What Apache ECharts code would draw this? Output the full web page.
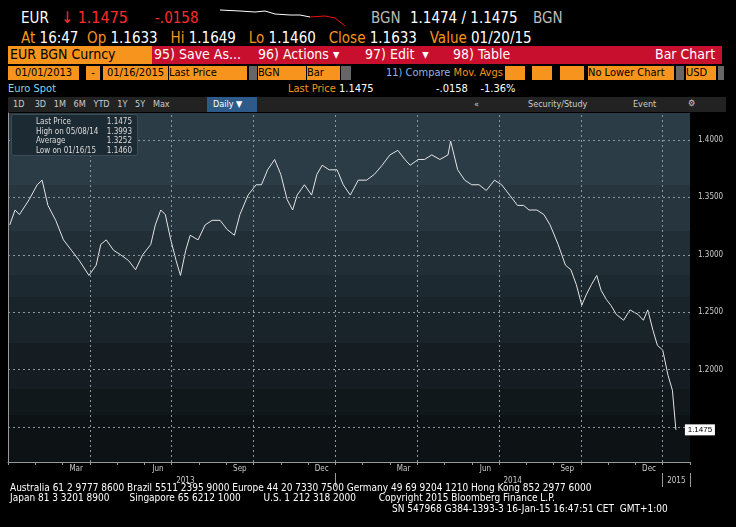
<!DOCTYPE html>
<html><head><meta charset="utf-8">
<script src="https://cdn.jsdelivr.net/npm/echarts@6/dist/echarts.min.js"></script>
<style>
body{margin:0;width:736px;height:527px;background:#000;overflow:hidden;font-family:"DejaVu Sans Condensed","DejaVu Sans",sans-serif;position:relative;color:#fff}
.a{position:absolute;white-space:nowrap}
.o{color:#f7941d}.w{color:#fff}.g{color:#bbb}
#plotbg{position:absolute;left:8px;top:113px;width:682px;height:349px;
background:linear-gradient(#2c3c46 0,#2c3c46 72px,#26353e 72px,#26353e 118px,#212e36 118px,#212e36 162px,#1d2930 162px,#1d2930 184px,#19232a 184px,#19232a 230px,#151d23 230px,#151d23 276px,#11181c 276px,#11181c 302px,#0d1215 302px)}
#c{position:absolute;left:0;top:108px;width:736px;height:384px}
</style></head><body>
<div class="a" style="left:21px;top:9px;font-size:15px">EUR</div>
<div class="a" style="left:61px;top:8px;font-size:16px;color:#ff2b2b">↓ 1.1475</div>
<div class="a" style="left:155px;top:9px;font-size:15px;color:#ff2b2b">-.0158</div>
<svg class="a" style="left:220px;top:8px" width="130" height="20"><polyline fill="none" stroke="#fff" stroke-width="1" points="0,2 20,3 35,4 45,3 55,6 70,7 80,7 90,9"/><polyline fill="none" stroke="#e11" stroke-width="1" points="90,9 105,8 115,10 125,18"/></svg>
<div class="a g" style="left:371px;top:9px;font-size:15px">BGN</div>
<div class="a" style="left:410px;top:9px;font-size:15px">1.1474 / 1.1475</div>
<div class="a g" style="left:533px;top:9px;font-size:15px">BGN</div>
<div class="a" style="left:21px;top:29px;font-size:15px"><span class="o">At</span> 16:47 &nbsp;<span class="o">Op</span> 1.1633 &nbsp;&nbsp;<span class="o">Hi</span> 1.1649 &nbsp;&nbsp;<span class="o">Lo</span> 1.1460 &nbsp;&nbsp;<span class="o">Close</span> 1.1633 &nbsp;&nbsp;<span class="o">Value</span> 01/20/15</div>
<div class="a" style="left:8px;top:46px;width:142px;height:18px;background:#f7941d;color:#000;font-size:14px;padding-left:2px">EUR BGN Curncy</div>
<div class="a" style="left:152px;top:46px;width:570px;height:18px;background:#c8102e;font-size:14px"></div>
<div class="a" style="left:154px;top:46px;font-size:14px">95) Save As...</div>
<div class="a" style="left:258px;top:46px;font-size:14px">96) Actions ▾</div>
<div class="a" style="left:365px;top:46px;font-size:14px">97) Edit &nbsp;▾</div>
<div class="a" style="left:453px;top:46px;font-size:14px">98) Table</div>
<div class="a" style="left:655px;top:46px;font-size:14px">Bar Chart</div>
<div class="a" style="left:8px;top:66px;width:716px;height:14px;font-size:11px;color:#000">
<span class="a" style="left:0;width:71px;height:14px;background:#f7941d;text-align:center">01/01/2013</span>
<span class="a" style="left:78px;width:14px;height:14px;background:#f7941d;text-align:center">-</span>
<span class="a" style="left:95px;width:65px;height:14px;background:#f7941d;text-align:center">01/16/2015</span>
<span class="a" style="left:161px;width:78px;height:14px;background:#f7941d">Last Price</span>
<span class="a" style="left:241px;width:8px;height:14px;background:#666"></span>
<span class="a" style="left:250px;width:48px;height:14px;background:#f7941d">BGN</span>
<span class="a" style="left:299px;width:33px;height:14px;background:#f7941d">Bar</span>
<span class="a" style="left:333px;width:10px;height:14px;background:#666"></span>
<span class="a" style="left:378px;color:#8cb4e0">11) Compare <span class="o">Mov. Avgs</span></span>
<span class="a" style="left:497px;width:20px;height:14px;background:#f7941d"></span>
<span class="a" style="left:524px;width:20px;height:14px;background:#f7941d"></span>
<span class="a" style="left:552px;width:24px;height:14px;background:#f7941d"></span>
<span class="a" style="left:580px;width:86px;height:14px;background:#f7941d">No Lower Chart</span>
<span class="a" style="left:668px;width:8px;height:14px;background:#666"></span>
<span class="a" style="left:678px;width:30px;height:14px;background:#f7941d">USD</span>
<span class="a" style="left:710px;width:6px;height:14px;background:#666"></span>
</div>
<div class="a" style="left:8px;top:82px;font-size:11px;color:#7fd6e6">Euro Spot</div>
<div class="a" style="left:288px;top:82px;font-size:11px"><span class="o">Last Price</span> 1.1475</div>
<div class="a" style="left:436px;top:82px;font-size:11px">-.0158 &nbsp;&nbsp;&nbsp;-1.36%</div>
<div class="a" style="left:8px;top:97px;width:718px;height:15px;background:#222;font-size:9px;color:#ccc">
<span class="a" style="left:5px;top:2px">1D &nbsp;&nbsp;&nbsp;3D &nbsp;&nbsp;1M &nbsp;&nbsp;6M &nbsp;&nbsp;YTD &nbsp;&nbsp;1Y &nbsp;&nbsp;5Y &nbsp;&nbsp;Max</span>
<span class="a" style="left:199px;top:0;width:50px;height:15px;background:#2e5a8a;color:#fff;padding:2px 0 0 6px;box-sizing:border-box">Daily ▼</span>
<span class="a" style="left:466px;top:2px">«</span>
<span class="a" style="left:520px;top:2px">Security/Study</span>
<span class="a" style="left:625px;top:2px">Event</span>
<span class="a" style="left:680px;top:1px">⚙</span>
</div>
<div id="plotbg"></div>
<div id="c"></div>
<div class="a" style="left:11px;top:114px;width:127px;height:42px;background:#1c2a33;border:1px solid #3c4c56;border-radius:3px;font-size:8px;color:#ddd;line-height:9.5px;padding:2px 0 0 24px;box-sizing:border-box">
<div>Last Price<span style="position:absolute;right:5px">1.1475</span></div>
<div>High on 05/08/14<span style="position:absolute;right:5px">1.3993</span></div>
<div>Average<span style="position:absolute;right:5px">1.3252</span></div>
<div>Low on 01/16/15<span style="position:absolute;right:5px">1.1460</span></div>
</div>
<div class="a" style="left:10px;top:483px;font-size:10px;line-height:10px;color:#fff">Australia 61 2 9777 8600 Brazil 5511 2395 9000 Europe 44 20 7330 7500 Germany 49 69 9204 1210 Hong Kong 852 2977 6000<br>Japan 81 3 3201 8900 &nbsp;&nbsp;&nbsp;&nbsp;&nbsp;&nbsp;Singapore 65 6212 1000 &nbsp;&nbsp;&nbsp;&nbsp;&nbsp;&nbsp;&nbsp;U.S. 1 212 318 2000 &nbsp;&nbsp;&nbsp;&nbsp;&nbsp;&nbsp;&nbsp;Copyright 2015 Bloomberg Finance L.P.</div>
<div class="a" style="left:392px;top:503px;font-size:10px;color:#fff">SN 547968 G384-1393-3 16-Jan-15 16:47:51 CET &nbsp;GMT+1:00</div>
<script>
const dates=["2013-01-03","2013-01-09","2013-01-14","2013-01-25","2013-02-03","2013-02-08","2013-02-14","2013-02-22","2013-03-02","2013-03-11","2013-03-20","2013-03-31","2013-04-08","2013-04-13","2013-04-19","2013-04-27","2013-05-05","2013-05-14","2013-05-22","2013-05-30","2013-06-08","2013-06-13","2013-06-19","2013-06-24","2013-06-30","2013-07-06","2013-07-11","2013-07-17","2013-07-22","2013-07-31","2013-08-08","2013-08-16","2013-08-25","2013-09-02","2013-09-10","2013-09-16","2013-09-25","2013-10-04","2013-10-10","2013-10-17","2013-10-25","2013-11-01","2013-11-08","2013-11-14","2013-11-19","2013-11-27","2013-12-05","2013-12-11","2013-12-17","2013-12-25","2014-01-03","2014-01-10","2014-01-18","2014-01-27","2014-02-05","2014-02-13","2014-02-21","2014-03-01","2014-03-10","2014-03-18","2014-03-24","2014-04-02","2014-04-09","2014-04-17","2014-04-26","2014-05-05","2014-05-08","2014-05-16","2014-05-24","2014-06-01","2014-06-09","2014-06-17","2014-06-26","2014-07-04","2014-07-13","2014-07-22","2014-07-29","2014-08-04","2014-08-13","2014-08-21","2014-08-28","2014-09-06","2014-09-14","2014-09-20","2014-09-26","2014-10-02","2014-10-07","2014-10-13","2014-10-19","2014-10-24","2014-10-30","2014-11-04","2014-11-10","2014-11-18","2014-11-25","2014-12-04","2014-12-10","2014-12-15","2014-12-21","2014-12-26","2015-01-01","2015-01-07","2015-01-12","2015-01-16"];
const closes=[1.326,1.339,1.335,1.348,1.361,1.365,1.343,1.330,1.313,1.304,1.295,1.282,1.291,1.309,1.313,1.304,1.300,1.295,1.287,1.300,1.309,1.326,1.339,1.335,1.313,1.295,1.282,1.304,1.317,1.313,1.326,1.330,1.330,1.322,1.317,1.335,1.352,1.361,1.361,1.374,1.383,1.370,1.348,1.339,1.352,1.361,1.352,1.370,1.378,1.374,1.374,1.361,1.352,1.365,1.365,1.370,1.378,1.387,1.391,1.383,1.378,1.383,1.383,1.387,1.383,1.387,1.399,1.374,1.365,1.361,1.361,1.356,1.365,1.361,1.352,1.343,1.343,1.339,1.339,1.335,1.326,1.309,1.291,1.287,1.274,1.256,1.265,1.274,1.282,1.269,1.261,1.256,1.248,1.243,1.252,1.248,1.243,1.252,1.234,1.221,1.217,1.195,1.182,1.1475];
const yTicks=[1.15,1.20,1.25,1.30,1.35,1.40];
const xGrid=[3,6,9,12,15,18,21,24];
const monthNames=["Jan","Feb","Mar","Apr","May","Jun","Jul","Aug","Sep","Oct","Nov","Dec"];
const monthCats=[];for(let i=0;i<25;i++)monthCats.push(monthNames[i%12]);
const yearCats=monthCats.map((m,i)=>String(2013+Math.floor(i/12)));
function toMonths(s){const [y,m,d]=s.split("-").map(Number);const dim=new Date(y,m,0).getDate();return (y-2013)*12+(m-1)+(d-1)/dim;}
const pts=dates.map((d,i)=>[toMonths(d),closes[i]]);
const lbl={color:'#ccc',fontSize:8,fontFamily:'DejaVu Sans Condensed'};
const gridStyle={color:'#8a979f',type:[2,3],width:1};
const chart=echarts.init(document.getElementById('c'));
chart.setOption({
animation:false,
grid:{left:8,right:46,top:5,bottom:30,containLabel:false},
xAxis:[
 {type:'value',position:'bottom',min:0,max:25,axisLine:{show:true,lineStyle:{color:'#999'}},axisTick:{show:false},axisLabel:{show:false},splitLine:{show:false}},
 {type:'category',position:'bottom',data:monthCats,boundaryGap:true,axisLine:{show:false},splitLine:{show:false},
  axisTick:{show:true,interval:0,length:3,lineStyle:{color:'#999'}},
  axisLabel:{...lbl,margin:3,interval:(i)=>i%3===2}},
 {type:'category',position:'bottom',data:yearCats,boundaryGap:true,offset:11,axisLine:{show:false},splitLine:{show:false},
  axisTick:{show:true,interval:(i)=>i%12===0&&i>0,length:14,lineStyle:{color:'#999'}},
  axisLabel:{...lbl,margin:4,interval:(i)=>i===6||i===18||i===24}}
],
yAxis:{type:'value',position:'right',min:1.1195,max:1.4235,
 axisLine:{show:true,lineStyle:{color:'#999'}},axisTick:{show:false},axisLabel:{show:false},splitLine:{show:false}},
series:[
 {type:'line',xAxisIndex:0,data:pts,symbol:'none',lineStyle:{color:'#e4e4e4',width:1},z:3,
 markLine:{silent:true,symbol:'none',lineStyle:gridStyle,
  label:{position:'end',distance:8,color:'#ccc',fontSize:8,fontFamily:'DejaVu Sans Condensed',formatter:p=>(p.data&&p.data.yAxis!==undefined&&p.data.yAxis>1.16)?Number(p.data.yAxis).toFixed(4):''},
  data:yTicks.map(v=>({yAxis:v})).concat(xGrid.map(v=>({xAxis:v})))},
 markPoint:{symbol:'rect',symbolSize:[30,11],data:[{coord:pts[pts.length-1]}],symbolOffset:[24,0],itemStyle:{color:'#fff'},label:{show:true,color:'#000',fontSize:8,formatter:()=>closes[closes.length-1].toFixed(4)}}}]
});
</script>
</body></html>
